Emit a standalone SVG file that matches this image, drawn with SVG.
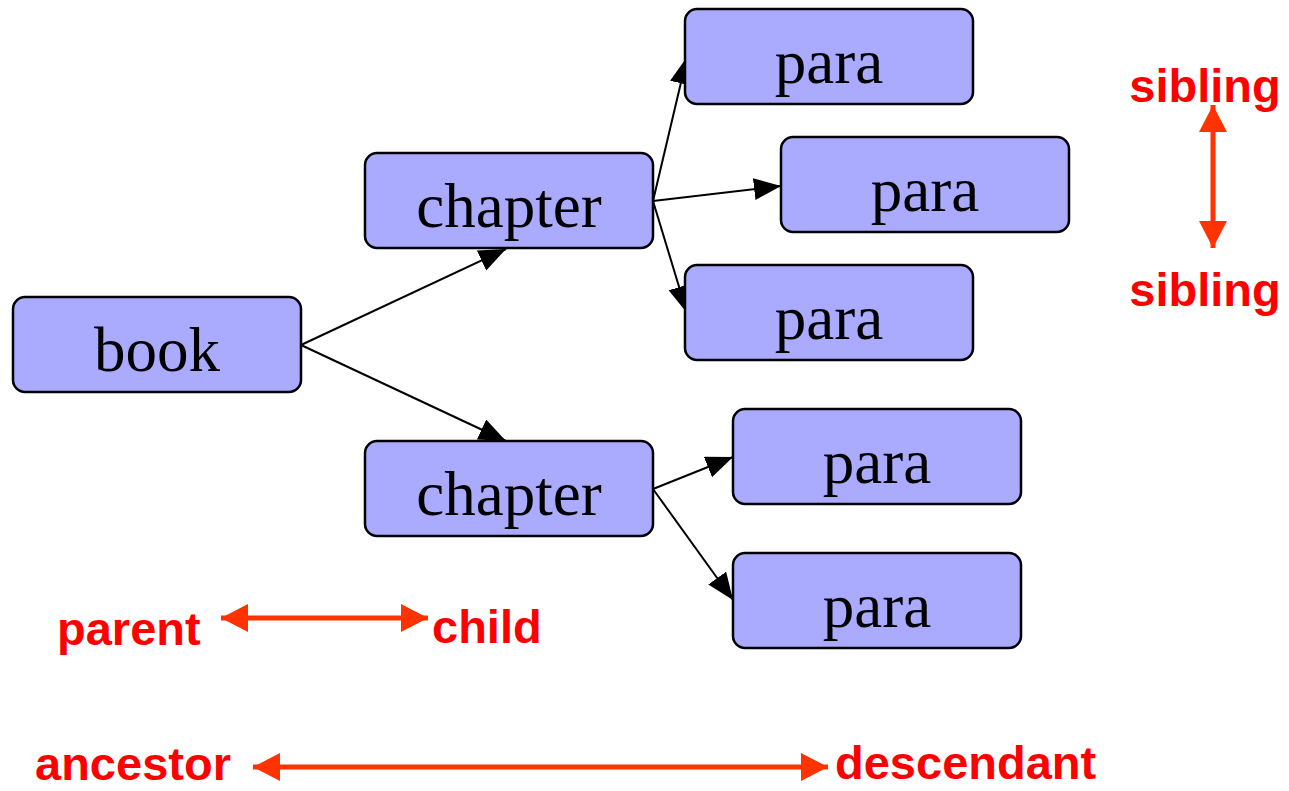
<svg xmlns="http://www.w3.org/2000/svg" width="1289" height="791" viewBox="0 0 1289 791">
  <style>
    .box { fill: #aaaaff; stroke: #000000; stroke-width: 2.5; }
    .lbl { font-family: "Liberation Serif", "Times New Roman", serif; font-size: 63px; fill: #000000; text-anchor: middle; }
    .edge { stroke: #000000; stroke-width: 2; fill: none; marker-end: url(#arrow); }
    .rel { stroke: #ff3300; stroke-width: 5; fill: none; marker-start: url(#redArrow); marker-end: url(#redArrow); }
    .term { font-family: "Liberation Sans", Arial, sans-serif; font-weight: bold; font-size: 47px; fill: #ff0000; }
  </style>
  <defs>
    <marker id="arrow" markerUnits="userSpaceOnUse" markerWidth="28" markerHeight="24" refX="27" refY="11" orient="auto">
      <path d="M0,0 L27,11 L0,22 z" fill="#000000"/>
    </marker>
    <marker id="redArrow" markerUnits="userSpaceOnUse" markerWidth="30" markerHeight="30" refX="27" refY="14" orient="auto-start-reverse">
      <path d="M0,0 L27,14 L0,28 z" fill="#ff3300"/>
    </marker>
  </defs>

  <!-- tree edges -->
  <g id="connectors">
    <line class="edge" x1="301" y1="345" x2="506" y2="249"/>
    <line class="edge" x1="301" y1="345" x2="506" y2="441"/>
    <line class="edge" x1="653" y1="201" x2="687" y2="57"/>
    <line class="edge" x1="653" y1="201" x2="781" y2="186"/>
    <line class="edge" x1="653" y1="201" x2="687" y2="313"/>
    <line class="edge" x1="653" y1="489" x2="733" y2="457"/>
    <line class="edge" x1="653" y1="489" x2="733" y2="600"/>
  </g>

  <!-- nodes -->
  <g id="book">
    <rect class="box" x="13" y="297" width="288" height="95" rx="12"/>
    <text class="lbl" x="157" y="371">book</text>
  </g>
  <g id="chapter1">
    <rect class="box" x="365" y="153" width="288" height="95" rx="12"/>
    <text class="lbl" x="509" y="227">chapter</text>
  </g>
  <g id="chapter2">
    <rect class="box" x="365" y="441" width="288" height="95" rx="12"/>
    <text class="lbl" x="509" y="515">chapter</text>
  </g>
  <g id="para1">
    <rect class="box" x="685" y="9" width="288" height="95" rx="12"/>
    <text class="lbl" x="829" y="83">para</text>
  </g>
  <g id="para2">
    <rect class="box" x="781" y="137" width="288" height="95" rx="12"/>
    <text class="lbl" x="925" y="211">para</text>
  </g>
  <g id="para3">
    <rect class="box" x="685" y="265" width="288" height="95" rx="12"/>
    <text class="lbl" x="829" y="339">para</text>
  </g>
  <g id="para4">
    <rect class="box" x="733" y="409" width="288" height="95" rx="12"/>
    <text class="lbl" x="877" y="483">para</text>
  </g>
  <g id="para5">
    <rect class="box" x="733" y="553" width="288" height="95" rx="12"/>
    <text class="lbl" x="877" y="627">para</text>
  </g>

  <!-- relationship legend -->
  <g id="legend">
    <text class="term" x="1205" y="102" text-anchor="middle">sibling</text>
    <line class="rel" x1="1213" y1="105" x2="1213" y2="248"/>
    <text class="term" x="1205" y="306" text-anchor="middle">sibling</text>

    <text class="term" x="57" y="645">parent</text>
    <line class="rel" x1="221" y1="618" x2="428" y2="618"/>
    <text class="term" x="432" y="643">child</text>

    <text class="term" x="35" y="780">ancestor</text>
    <line class="rel" x1="253" y1="767" x2="828" y2="767"/>
    <text class="term" x="835" y="779">descendant</text>
  </g>
</svg>
